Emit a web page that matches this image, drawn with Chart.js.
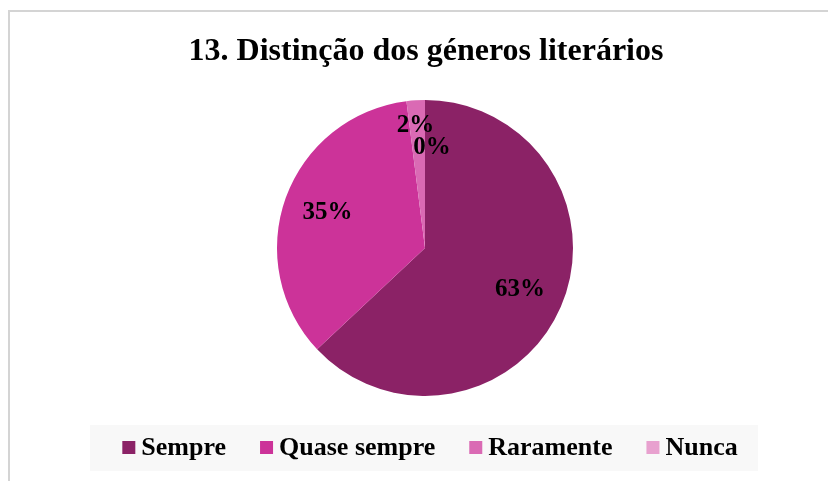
<!DOCTYPE html>
<html>
<head>
<meta charset="utf-8">
<script src="https://cdn.jsdelivr.net/npm/chart.js@4.4.1/dist/chart.umd.min.js"></script>
<style>
  html, body { margin: 0; padding: 0; background: #fff; overflow: hidden; }
  #wrap { position: relative; width: 828px; height: 481px; }
  #frame { position: absolute; left: 8px; top: 10px; width: 900px; height: 600px; border: 2px solid #d4d4d4; box-sizing: border-box; }
  #chart { position: absolute; left: 0; top: 0; }
</style>
</head>
<body>
<div id="wrap">
  <div id="frame"></div>
  <canvas id="chart" width="828" height="481"></canvas>
</div>
<script>
'use strict';

// Data
var categories = ['Sempre', 'Quase sempre', 'Raramente', 'Nunca'];
var percentages = [63, 35, 2, 0];
var sliceColors = ['#8b2266', '#cc3399', '#da6ab4', '#e8a1cf'];
var chartTitle = '13. Distinção dos géneros literários';

var SERIF = '"Liberation Serif", "Times New Roman", serif';

/**
 * Title, percent labels and legend box, all drawn on the canvas
 */
var decorPlugin = {
    id: 'decor',
    afterDatasetsDraw: function (chart) {
        var ctx  = chart.ctx;
        var meta = chart.getDatasetMeta(0);

        // Percent labels (Excel nudges the two small ones apart)
        var nudge = [[0, 0], [0, 0], [-3, -19], [7, 3]];
        ctx.save();
        ctx.font = 'bold 25px ' + SERIF;
        ctx.fillStyle = '#000';
        ctx.textAlign = 'center';
        ctx.textBaseline = 'middle';
        meta.data.forEach(function (arc, i) {
            var p   = arc.getProps(['x', 'y', 'startAngle', 'endAngle', 'outerRadius'], true);
            var mid = (p.startAngle + p.endAngle) / 2;
            var r   = p.outerRadius * 0.7;
            var x   = p.x + Math.cos(mid) * r + nudge[i][0];
            var y   = p.y + Math.sin(mid) * r + nudge[i][1];
            ctx.fillText(percentages[i] + '%', x, y);
        });
        ctx.restore();
    },
    afterDraw: function (chart) {
        var ctx = chart.ctx;

        // Title
        ctx.save();
        ctx.font = 'bold 32px ' + SERIF;
        ctx.fillStyle = '#000';
        ctx.textAlign = 'center';
        ctx.textBaseline = 'alphabetic';
        ctx.fillText(chartTitle, 426, 60);
        ctx.restore();

        // Legend box
        ctx.save();
        ctx.fillStyle = '#f8f8f8';
        ctx.fillRect(90, 425, 668, 46);

        ctx.font = 'bold 26px ' + SERIF;
        ctx.textBaseline = 'alphabetic';
        ctx.textAlign = 'left';
        var box = 13, gapText = 6, gapItem = 34;
        var total = 0;
        categories.forEach(function (c, i) {
            total += box + gapText + ctx.measureText(c).width + (i < categories.length - 1 ? gapItem : 0);
        });
        var x = 430 - total / 2;
        categories.forEach(function (c, i) {
            ctx.fillStyle = sliceColors[i];
            ctx.fillRect(x, 441, box, box);
            x += box + gapText;
            ctx.fillStyle = '#000';
            ctx.fillText(c, x, 455);
            x += ctx.measureText(c).width + gapItem;
        });
        ctx.restore();
    }
};

new Chart(document.getElementById('chart'), {
    type: 'pie',
    data: {
        labels: categories,
        datasets: [{
            data: percentages,
            backgroundColor: sliceColors,
            borderWidth: 0
        }]
    },
    options: {
        responsive: false,
        animation: false,
        layout: { padding: { top: 100, bottom: 85, left: 277, right: 255 } },
        plugins: {
            legend: { display: false },
            title: { display: false },
            tooltip: { enabled: false }
        }
    },
    plugins: [decorPlugin]
});
</script>
</body>
</html>
